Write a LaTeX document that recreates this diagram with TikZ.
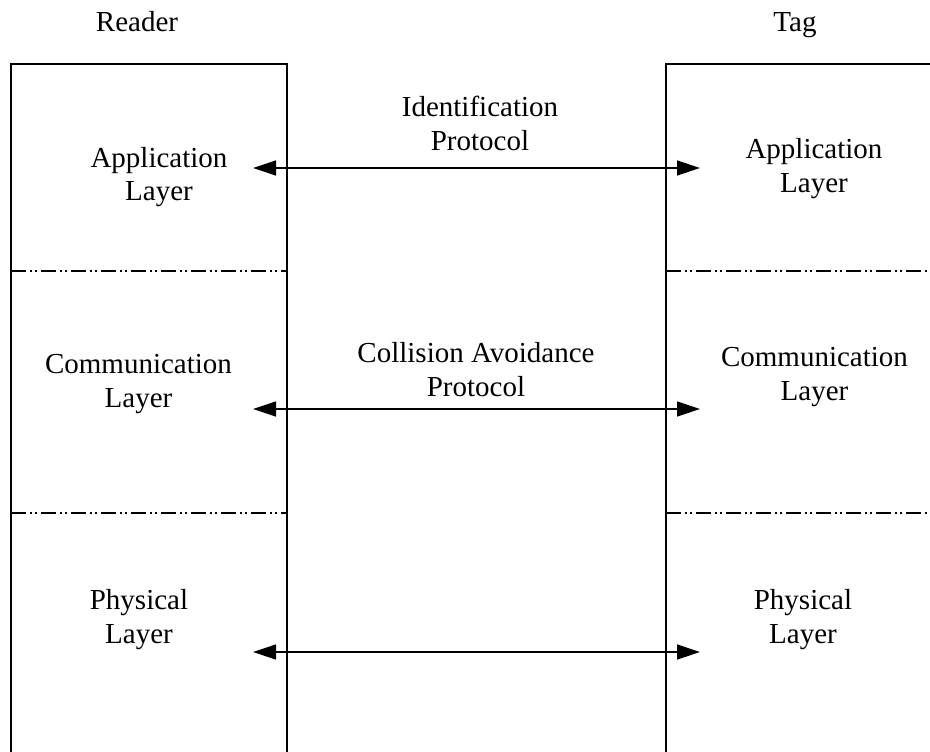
\documentclass[tikz,border=0pt]{standalone}
\usepackage{fontspec}
\setmainfont{Liberation Serif}
\usetikzlibrary{arrows.meta}
\begin{document}
\begin{tikzpicture}[x=1pt,y=-1pt,
  frame/.style={line width=1.5pt},
  layersep/.style={line width=1.5pt,
    dash pattern=on 15pt off 4pt on 2pt off 3pt on 2pt off 4pt},
  proto/.style={line width=1.3pt,{Triangle[length=23pt,width=15pt]}-{Triangle[length=23pt,width=15pt]}},
  lbl/.style={anchor=base,inner sep=0pt,font=\fontsize{29}{34}\selectfont}]
  \useasboundingbox (0,0) rectangle (930,752);

  % headers
  \node[lbl] (reader) at (137,32) {Reader};
  \node[lbl] (tag) at (795,32) {Tag};

  % reader stack (open at the bottom)
  \draw[frame] (11,760) -- (11,64) -- (287,64) -- (287,760);
  \draw[layersep] (11,271) -- (287,271);
  \draw[layersep] (11,513) -- (287,513);

  % tag stack (open at the bottom and right)
  \draw[frame] (666,760) -- (666,64) -- (940,64);
  \draw[layersep] (666,271) -- (932,271);
  \draw[layersep] (666,513) -- (932,513);

  % layer names
  \node[lbl] (rapp) at (159,167) {\begin{tabular}[t]{@{}c@{}}Application\\Layer\end{tabular}};
  \node[lbl] (rcom) at (138.5,373) {\begin{tabular}[t]{@{}c@{}}Communication\\Layer\end{tabular}};
  \node[lbl] (rphy) at (139,609) {\begin{tabular}[t]{@{}c@{}}Physical\\Layer\end{tabular}};
  \node[lbl] (tapp) at (814,158) {\begin{tabular}[t]{@{}c@{}}Application\\Layer\end{tabular}};
  \node[lbl] (tcom) at (814.5,366) {\begin{tabular}[t]{@{}c@{}}Communication\\Layer\end{tabular}};
  \node[lbl] (tphy) at (803,609) {\begin{tabular}[t]{@{}c@{}}Physical\\Layer\end{tabular}};

  % protocol labels
  \node[lbl] (pid) at (480,117) {\begin{tabular}[t]{@{}c@{}}Identification\\Protocol\end{tabular}};
  \node[lbl] (pca) at (476,362) {\begin{tabular}[t]{@{}c@{}}Collision Avoidance\\Protocol\end{tabular}};

  % protocol arrow ends
  \coordinate (a1l) at (253,168); \coordinate (a1r) at (700,168);
  \coordinate (a2l) at (253,409); \coordinate (a2r) at (700,409);
  \coordinate (a3l) at (253,652); \coordinate (a3r) at (700,652);
  \draw[proto] (a1l) -- (a1r);
  \draw[proto] (a2l) -- (a2r);
  \draw[proto] (a3l) -- (a3r);
\end{tikzpicture}
\end{document}
